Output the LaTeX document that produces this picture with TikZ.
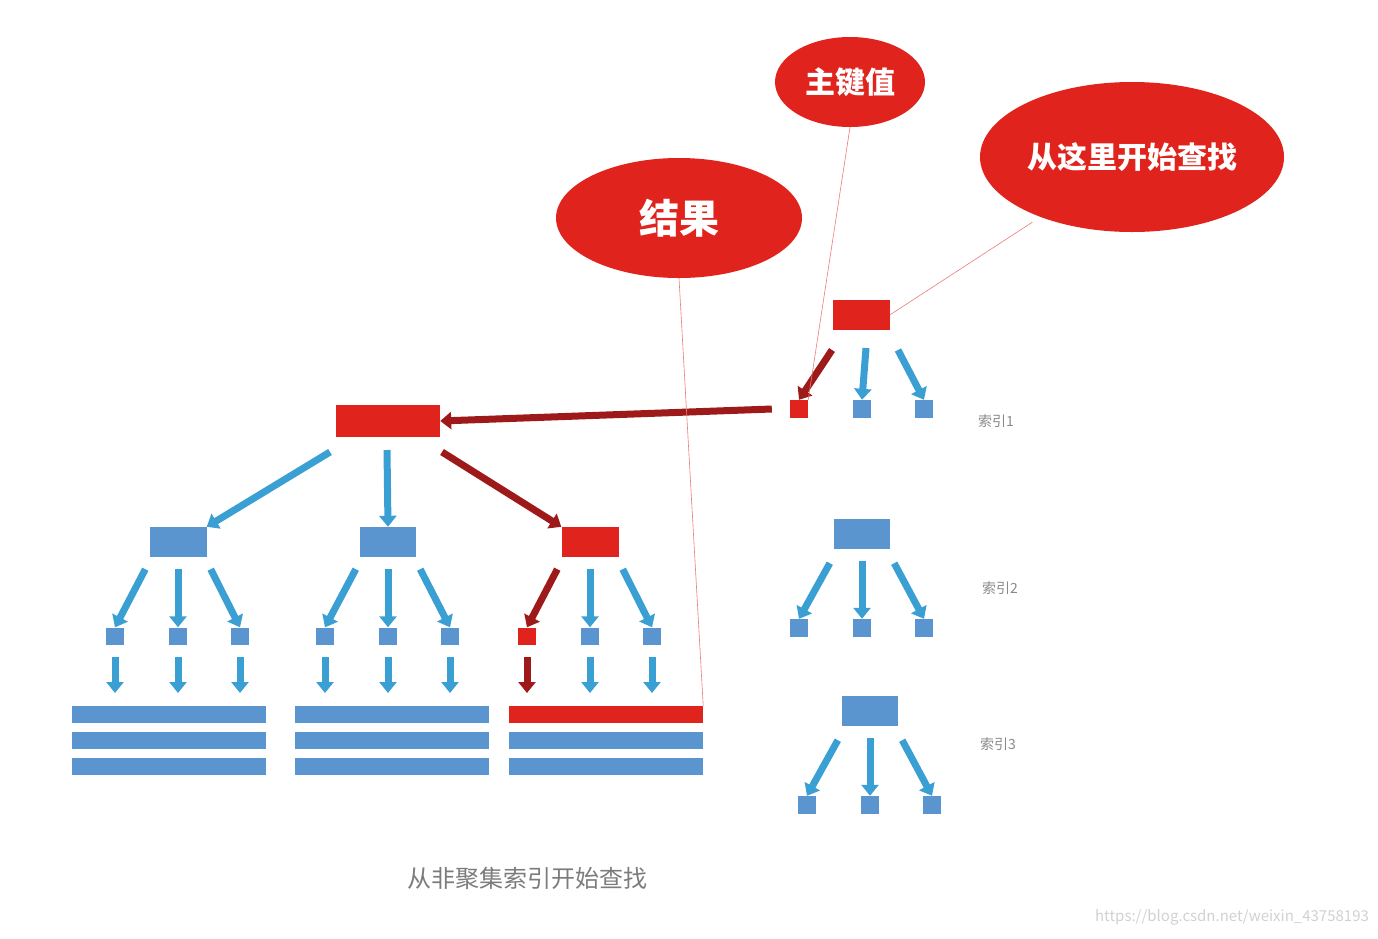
\documentclass[tikz,border=0pt]{standalone}
\usepackage{fontspec}
\setmainfont{Noto Sans CJK SC}
\usetikzlibrary{shapes.geometric,arrows.meta}
\definecolor{bred}{HTML}{E0231C}
\definecolor{dred}{HTML}{9E1A1A}
\definecolor{abl}{HTML}{3A9FD3}
\definecolor{bbl}{HTML}{5B95D0}
\definecolor{lbl}{HTML}{8A8A8A}
\tikzset{
 bub/.style={ellipse,fill=bred,text=white,font=\bfseries,inner sep=0pt},
 rbox/.style={fill=bred,inner sep=0pt,minimum width=#1,minimum height=30pt},
 bbox/.style={fill=bbl,inner sep=0pt,minimum width=#1,minimum height=30pt},
 rsq/.style={fill=bred,inner sep=0pt,minimum size=18pt},
 bsq/.style={fill=bbl,inner sep=0pt,minimum size=18pt},
 row/.style={fill=bbl,inner sep=0pt,minimum width=194pt,minimum height=17pt},
 rrow/.style={fill=bred,inner sep=0pt,minimum width=194pt,minimum height=17pt},
 barr/.style={draw=abl,line width=7pt,-{Triangle[width=17pt,length=11pt]}},
 rarr/.style={draw=dred,line width=7pt,-{Triangle[width=17pt,length=11pt]}},
 lead/.style={draw=bred!60,line width=0.6pt},
 idx/.style={text=lbl,font=\fontsize{14}{14}\selectfont}
}
\begin{document}
\begin{tikzpicture}[x=1pt,y=-1pt]
\useasboundingbox (0,0) rectangle (1378,938);
% bubbles
\node[bub,minimum width=150pt,minimum height=90pt,font=\bfseries\fontsize{30}{30}\selectfont] (pk) at (850,82) {主键值};
\node[bub,minimum width=304pt,minimum height=150pt,font=\bfseries\fontsize{30}{30}\selectfont] (st) at (1132,157) {从这里开始查找};
\node[bub,minimum width=246pt,minimum height=120pt,font=\bfseries\fontsize{40}{40}\selectfont] (res) at (679,218) {结果};
% index 1
\node[rbox=57pt] (i1) at (861,315) {};
\node[rsq] (i1a) at (799,409) {};
\node[bsq] (i1b) at (862,409) {};
\node[bsq] (i1c) at (924,409) {};
\node[idx] (l1) at (996,421) {索引1};
\coordinate (c1a) at (832,350); \coordinate (c1b) at (866,348); \coordinate (c1c) at (898,350);
\draw[rarr] (c1a) -- (i1a.north);
\draw[barr] (c1b) -- (i1b.north);
\draw[barr] (c1c) -- (i1c.north);
% index 2
\node[bbox=56pt] (i2) at (862,534) {};
\node[bsq] (i2a) at (799,628) {};
\node[bsq] (i2b) at (862,628) {};
\node[bsq] (i2c) at (924,628) {};
\node[idx] (l2) at (1000,588) {索引2};
\draw[barr] (i2.south west)++(-4,14) -- (i2a.north);
\draw[barr] (i2.south)++(0,12) -- (i2b.north);
\draw[barr] (i2.south east)++(4,14) -- (i2c.north);
% index 3
\node[bbox=56pt] (i3) at (870,711) {};
\node[bsq] (i3a) at (807,805) {};
\node[bsq] (i3b) at (870,805) {};
\node[bsq] (i3c) at (932,805) {};
\node[idx] (l3) at (998,744) {索引3};
\draw[barr] (i3.south west)++(-4,14) -- (i3a.north);
\draw[barr] (i3.south)++(0,12) -- (i3b.north);
\draw[barr] (i3.south east)++(4,14) -- (i3c.north);
% main tree
\node[rbox=104pt,minimum height=32pt] (root) at (388,421) {};
\draw[rarr] (i1a.west)++(-18,0) -- (root.east);
\coordinate (r1) at (330,452); \coordinate (r2) at (387,450); \coordinate (r3) at (442,452);
\node[bbox=57pt] (m1) at (178,542) {};
\node[bbox=56pt] (m2) at (388,542) {};
\node[rbox=57pt] (m3) at (590,542) {};
\draw[barr] (r1) -- (m1.north east);
\draw[barr] (r2) -- (m2.north);
\draw[rarr] (r3) -- (m3.north west);
% groups
\foreach \g/\cx/\rx in {1/178/169, 2/388/392, 3/590/606}{
  \foreach \k/\dx in {a/-63,b/0,c/62}{
    \pgfmathsetmacro{\sx}{\cx+\dx}
    \node[bsq,minimum height=17pt] (s\g\k) at (\sx,636) {};
    \coordinate (t\g\k) at (\sx,657);
  }
  \node[row] (w\g a) at (\rx,714.5) {};
  \node[row] (w\g b) at (\rx,740.5) {};
  \node[row] (w\g c) at (\rx,766.5) {};
}
\node[rsq,minimum height=17pt] (s3a) at (527,636) {};
\node[rrow] (w3a) at (606,714.5) {};
\foreach \g in {1,2}{
  \draw[barr] (m\g.south west)++(-4,12) -- (s\g a.north);
  \draw[barr] (m\g.south)++(0,12) -- (s\g b.north);
  \draw[barr] (m\g.south east)++(4,12) -- (s\g c.north);
  \foreach \k in {a,b,c}{\draw[barr] (t\g\k) -- ++(0,36);}
}
\draw[rarr] (m3.south west)++(-4,12) -- (s3a.north);
\draw[barr] (m3.south)++(0,12) -- (s3b.north);
\draw[barr] (m3.south east)++(4,12) -- (s3c.north);
\draw[rarr] (527,657) -- ++(0,36);
\draw[barr] (t3b) -- ++(0,36);
\draw[barr] (t3c) -- ++(0,36);
% leaders
\draw[lead] (pk.south) -- (i1a.north east);
\draw[lead] (st.south west)++(8,12) -- (i1.east);
\draw[lead] (res.south) -- (w3a.north east);
% captions
\node[text=lbl!90!black,font=\fontsize{24}{24}\selectfont] (cap) at (527,878) {从非聚集索引开始查找};
\node[text=black!18,font=\fontsize{15}{15}\selectfont] (wm) at (1232,917) {https://blog.csdn.net/weixin\_43758193};
\end{tikzpicture}
\end{document}
